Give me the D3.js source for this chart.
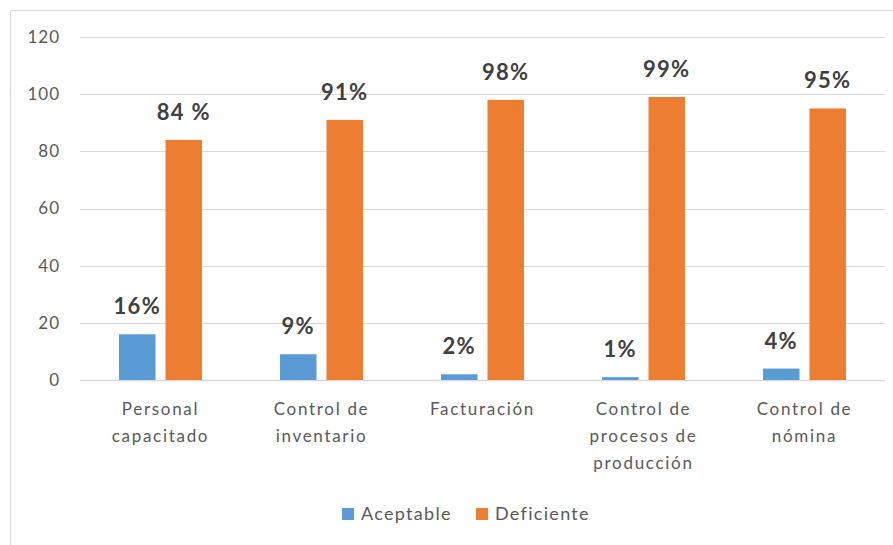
<!DOCTYPE html>
<html>
<head>
<meta charset="utf-8">
<script src="https://cdn.jsdelivr.net/npm/d3@7"></script>
<style>
  body { margin: 0; background: #fff; }
  text { font-family: Lato, "Open Sans", sans-serif; }
</style>
</head>
<body>
<svg id="chart" width="893" height="545"></svg>
<script>
const categories = [
  ["Personal", "capacitado"],
  ["Control de", "inventario"],
  ["Facturación"],
  ["Control de", "procesos de", "producción"],
  ["Control de", "nómina"]
];
const seriesNames = ["Aceptable", "Deficiente"];
const aceptable = [16, 9, 2, 1, 4];
const deficiente = [84, 91, 98, 99, 95];
const aceptableLabels = ["16%", "9%", "2%", "1%", "4%"];
const deficienteLabels = ["84 %", "91%", "98%", "99%", "95%"];
const yTicks = [0, 20, 40, 60, 80, 100, 120];
const colors = ["#5b9bd5", "#ed7d31"];

const svg = d3.select("#chart");
const margin = { left: 80, right: 8, top: 37, bottom: 165 };
const width = 893, height = 545;

// chart area border (only top and left visible in the crop)
svg.append("path")
  .attr("d", "M10.5,545 V10.5 H893")
  .attr("fill", "none")
  .attr("stroke", "#d9d9d9");

const x0 = d3.scaleBand()
  .domain(d3.range(categories.length))
  .range([margin.left, width - margin.right]);

const x1 = d3.scaleBand()
  .domain(seriesNames)
  .range([0, x0.bandwidth()])
  .paddingInner(0.215)
  .paddingOuter(0.84);

const y = d3.scaleLinear()
  .domain([0, 120])
  .range([height - margin.bottom, margin.top]);

// gridlines
svg.append("g")
  .selectAll("line")
  .data(yTicks)
  .enter().append("line")
  .attr("x1", margin.left)
  .attr("x2", width - margin.right)
  .attr("y1", d => Math.round(y(d)) + 0.5)
  .attr("y2", d => Math.round(y(d)) + 0.5)
  .attr("stroke", "#d9d9d9")
  .attr("stroke-width", d => d === 0 ? 1.5 : 1);

// y tick labels
svg.append("g")
  .selectAll("text")
  .data(yTicks)
  .enter().append("text")
  .attr("x", 60)
  .attr("y", d => y(d))
  .attr("dy", "0.35em")
  .attr("text-anchor", "end")
  .attr("font-size", 17)
  .attr("letter-spacing", "1px")
  .attr("fill", "#595959")
  .text(d => d);

const series = [
  { name: seriesNames[0], values: aceptable, labels: aceptableLabels, color: colors[0] },
  { name: seriesNames[1], values: deficiente, labels: deficienteLabels, color: colors[1] }
];

series.forEach(s => {
  const g = svg.append("g");
  g.selectAll("rect")
    .data(s.values)
    .enter().append("rect")
    .attr("x", (d, i) => x0(i) + x1(s.name))
    .attr("width", x1.bandwidth())
    .attr("y", d => y(d))
    .attr("height", d => y(0) - y(d))
    .attr("fill", s.color);

  g.selectAll("text")
    .data(s.values)
    .enter().append("text")
    .attr("x", (d, i) => x0(i) + x1(s.name) + x1.bandwidth() / 2)
    .attr("y", d => y(d) - 20)
    .attr("text-anchor", "middle")
    .attr("font-size", 22)
    .attr("font-weight", "bold")
    .attr("letter-spacing", "1.3px")
    .attr("fill", "#404040")
    .text((d, i) => s.labels[i]);
});

// category labels
const cat = svg.append("g")
  .selectAll("text")
  .data(categories)
  .enter().append("text")
  .attr("x", (d, i) => x0(i) + x0.bandwidth() / 2)
  .attr("y", 415)
  .attr("text-anchor", "middle")
  .attr("font-size", 17)
  .attr("letter-spacing", "1.7px")
  .attr("fill", "#595959");

cat.selectAll("tspan")
  .data(d => d)
  .enter().append("tspan")
  .attr("x", function() { return d3.select(this.parentNode).attr("x"); })
  .attr("dy", (d, i) => i === 0 ? 0 : 27)
  .text(d => d);

// legend
const legend = svg.append("g")
  .selectAll("g")
  .data(series)
  .enter().append("g")
  .attr("transform", (d, i) => `translate(${[342, 476][i]},514)`);

legend.append("rect")
  .attr("x", 0)
  .attr("y", -6)
  .attr("width", 12)
  .attr("height", 12)
  .attr("fill", d => d.color);

legend.append("text")
  .attr("x", 19)
  .attr("y", 0)
  .attr("dy", "0.35em")
  .attr("font-size", 18)
  .attr("letter-spacing", "1.3px")
  .attr("fill", "#595959")
  .text(d => d.name);
</script>
</body>
</html>
